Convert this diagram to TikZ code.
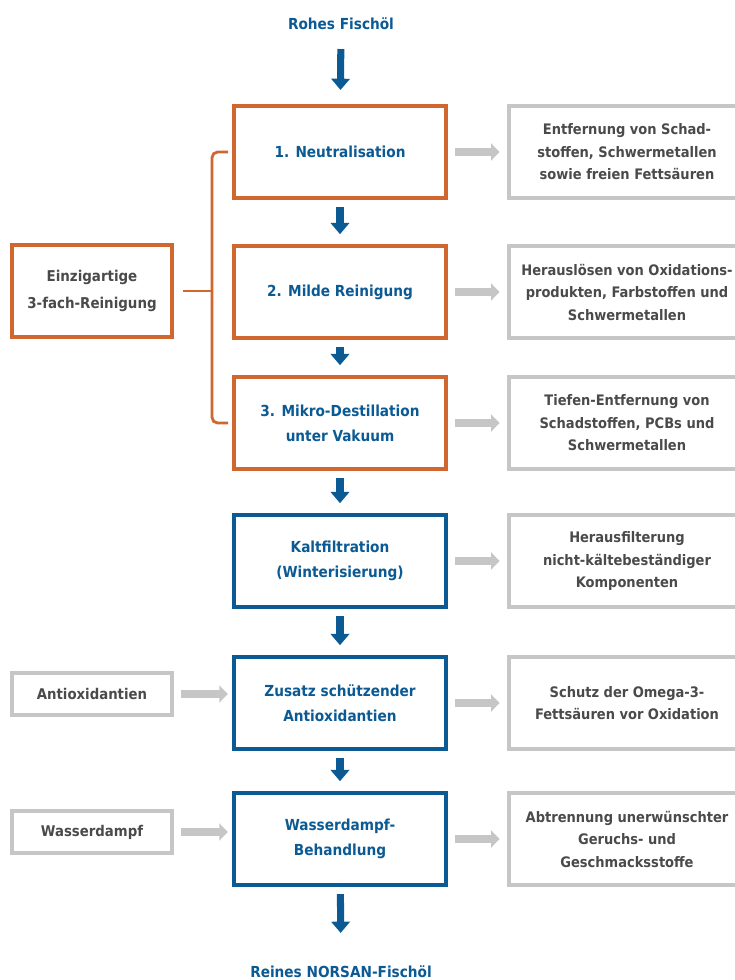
\documentclass[tikz,border=0pt]{standalone}
\usepackage{fontspec}
\setmainfont{DejaVu Sans Condensed}
\usepackage{tikz}
\usetikzlibrary{arrows.meta}
\definecolor{myorange}{HTML}{D0672F}
\definecolor{myblue}{HTML}{0B5A94}
\definecolor{mygray}{HTML}{C6C6C6}
\definecolor{mytext}{HTML}{4A4A4A}

\begin{document}
\begin{tikzpicture}[x=0.025cm, y=-0.025cm,
    stufe/.style={draw=#1, line width=2.8pt, fill=white, text=myblue, align=center,
        minimum width=5.3cm, minimum height=2.3cm, inner sep=0pt,
        font=\fontsize{10.8}{18}\selectfont\bfseries},
    info/.style={draw=mygray, line width=3.4pt, fill=white, text=mytext, align=center,
        minimum width=5.9cm, minimum height=2.3cm, inner sep=0pt,
        font=\fontsize{10.3}{16}\selectfont\bfseries},
    zusatz/.style={draw=mygray, line width=3.4pt, fill=white, text=mytext,
        minimum width=4cm, minimum height=1.05cm, inner sep=0pt,
        font=\fontsize{10.5}{16}\selectfont\bfseries},
    titel/.style={text=myblue, font=\fontsize{10.8}{16}\selectfont\bfseries},
    fluss/.style={draw=myblue, line width=5pt, -{Triangle[width=13pt,length=8pt]}},
    grau/.style={draw=mygray, line width=5pt, -{Triangle[width=12pt,length=6pt]}},
    klammer/.style={draw=myorange, line width=2pt, rounded corners=4pt}
]
    \useasboundingbox (0,0) rectangle (735,980);

    \node[titel] (roh) at (341,24) {Rohes Fischöl};
    \node[titel] (rein) at (341,972) {Reines NORSAN-Fischöl};

    % Hauptschritte
    \node[stufe=myorange] (n1) at (340,152) {1. Neutralisation};
    \node[stufe=myorange] (n2) at (340,292) {2. Milde Reinigung};
    \node[stufe=myorange] (n3) at (340,423) {3. Mikro-Destillation\\unter Vakuum};
    \node[stufe=myblue] (n4) at (340,561) {Kaltfiltration\\(Winterisierung)};
    \node[stufe=myblue] (n5) at (340,703) {Zusatz schützender\\Antioxidantien};
    \node[stufe=myblue] (n6) at (340,839) {Wasserdampf-\\Behandlung};

    % Ergebnisse rechts
    \node[info] (r1) at (627,152) {Entfernung von Schad-\\stoffen, Schwermetallen\\sowie freien Fettsäuren};
    \node[info] (r2) at (627,292) {Herauslösen von Oxidations-\\produkten, Farbstoffen und\\Schwermetallen};
    \node[info] (r3) at (627,423) {Tiefen-Entfernung von\\Schadstoffen, PCBs und\\Schwermetallen};
    \node[info] (r4) at (627,561) {Herausfilterung\\nicht-kältebeständiger\\Komponenten};
    \node[info] (r5) at (627,703) {Schutz der Omega-3-\\Fettsäuren vor Oxidation};
    \node[info] (r6) at (627,839) {Abtrennung unerwünschter\\Geruchs- und\\Geschmacksstoffe};

    \node[zusatz] (anti) at (92,694) {Antioxidantien};
    \node[zusatz] (dampf) at (92,832) {Wasserdampf};

    \foreach \a in {1,...,6}
        \draw[grau, shorten <=5pt, shorten >=5pt] (n\a) -- (r\a);
    \draw[grau, shorten <=5pt, shorten >=3pt] (anti) -- (anti -| n5.west);
    \draw[grau, shorten <=5pt, shorten >=3pt] (dampf) -- (dampf -| n6.west);

    \draw[fluss, shorten <=10pt, shorten >=10pt] (roh) -- (n1);
    \foreach \a/\b in {1/2, 2/3, 3/4, 4/5, 5/6}
        \draw[fluss, shorten <=5pt, shorten >=7pt] (n\a) -- (n\b);
    \draw[fluss, shorten <=5pt, shorten >=20pt] (n6) -- (rein);

    % 3-fach-Reinigung
    \node[stufe=myorange, text=mytext, minimum width=4cm, minimum height=2.3cm,
        font=\fontsize{10.6}{19}\selectfont\bfseries] (drei) at (92,291) {Einzigartige\\3-fach-Reinigung};
    \coordinate (mitte) at (212,291);
    \draw[klammer] ([xshift=-0.1cm]n1.west) -- (212,152) -- (212,423) -- ([xshift=-0.1cm]n3.west);
    \draw[klammer, rounded corners=0pt] ([xshift=0.22cm]drei.east) -- (mitte);

\end{tikzpicture}
\end{document}
